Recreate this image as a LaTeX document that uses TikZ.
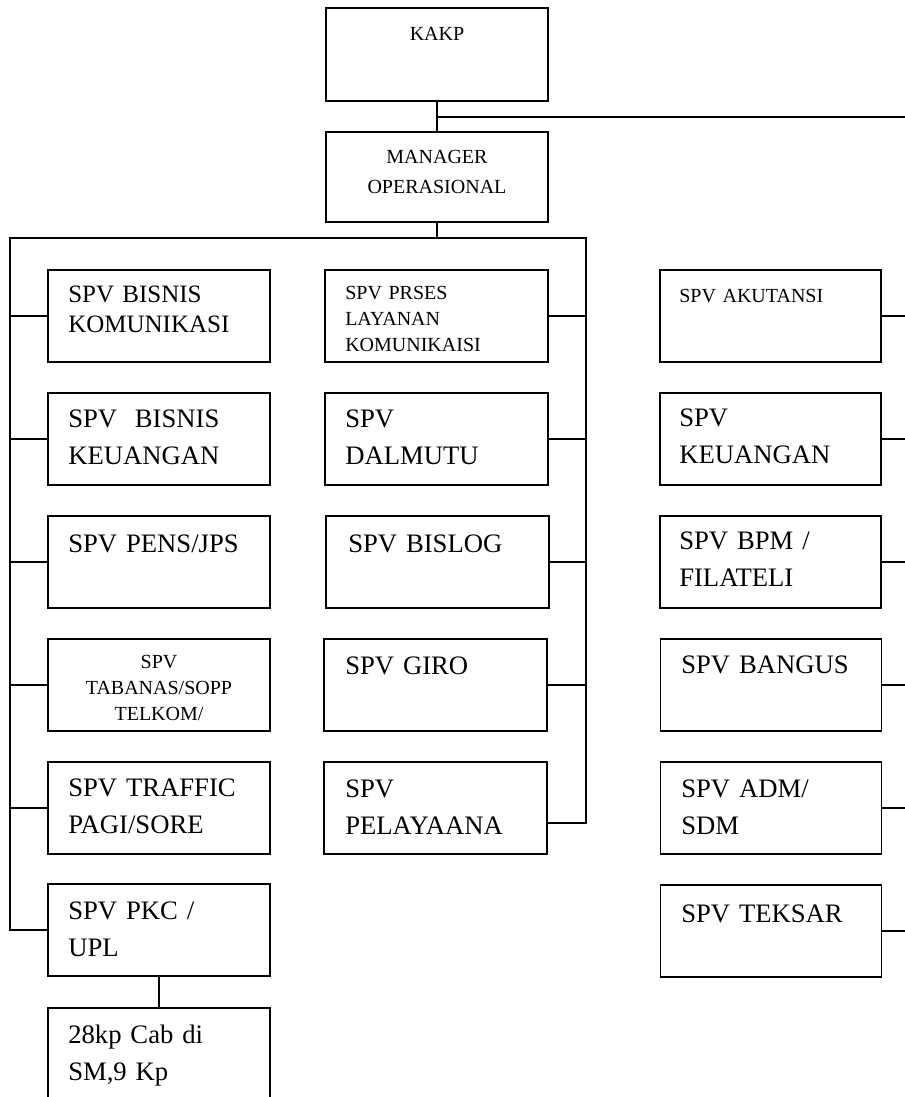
\documentclass[tikz,border=0pt]{standalone}
\usepackage{fontspec}
\setmainfont{Liberation Serif}

\tikzset{
  box/.style={draw, line width=0.9pt, inner sep=0pt, minimum height=69pt},
  lbox/.style={box, minimum width=166.5pt},
  mbox/.style={box, minimum width=167.25pt},
  rbox/.style={box, minimum width=165.75pt},
  big/.style={font=\fontsize{20}{28}\selectfont, anchor=base west, inner sep=0pt, text width=160pt, align=left},
  mid/.style={font=\fontsize{18.75}{22.5}\selectfont, anchor=base west, inner sep=0pt, text width=160pt, align=left},
  small/.style={font=\fontsize{15}{19.5}\selectfont, anchor=base west, inner sep=0pt, text width=160pt, align=left},
  head/.style={font=\fontsize{15}{22.5}\selectfont, anchor=base, inner sep=0pt, text width=160pt, align=center},
  link/.style={line width=0.9pt}
}

\begin{document}
\begin{tikzpicture}[x=0.75pt, y=-0.75pt]

\useasboundingbox[fill=white] (0,0) rectangle (905,1097);

% Top boxes
\node[box, minimum width=166.5pt, minimum height=69.75pt] (kakp) at (437,54.5) {};
\node[box, minimum width=166.5pt, minimum height=67.5pt] (mgr) at (437,177) {};

% Left column
\node[lbox] (L1) at (159,316) {};
\node[lbox] (L2) at (159,439) {};
\node[lbox] (L3) at (159,562) {};
\node[lbox] (L4) at (159,685) {};
\node[lbox] (L5) at (159,808) {};
\node[lbox] (L6) at (159,930) {};
\node[lbox, minimum height=70pt] (L7) at (159,1054.7) {};

% Middle column
\node[mbox] (M1) at (436.5,316) {};
\node[mbox] (M2) at (436.5,439) {};
\node[mbox] (M3) at (437.5,562) {};
\node[mbox] (M4) at (435.5,685) {};
\node[mbox] (M5) at (435.5,808) {};

% Right column
\node[rbox] (R1) at (770.5,316) {};
\node[rbox] (R2) at (770.5,439) {};
\node[rbox] (R3) at (770.5,562) {};
\node[rbox] (R4) at (771,685) {};
\node[rbox] (R5) at (771,808) {};
\node[rbox] (R6) at (771,931) {};

% Texts
\node[head] (kakpT) at (437,40) {KAKP};
\node[head] (mgrT) at (437,163) {MANAGER\\OPERASIONAL};

\node[mid] (L1T) at (68,302) {SPV BISNIS\\KOMUNIKASI};
\node[big] (L2T) at (68,427) {SPV\ \ BISNIS\\KEUANGAN};
\node[big] (L3T) at (68,552) {SPV PENS/JPS};
\node[small, anchor=base, align=center] (L4T) at (159,668) {SPV\\TABANAS/SOPP\\TELKOM/};
\node[big] (L5T) at (68,796) {SPV TRAFFIC\\PAGI/SORE};
\node[big] (L6T) at (68,919) {SPV PKC /\\UPL};
\node[big] (L7T) at (68,1043) {28kp Cab di\\SM,9 Kp};

\node[small] (M1T) at (345,299) {SPV PRSES\\LAYANAN\\KOMUNIKAISI};
\node[big] (M2T) at (345,427) {SPV\\DALMUTU};
\node[big] (M3T) at (348,552) {SPV BISLOG};
\node[big] (M4T) at (345,674) {SPV GIRO};
\node[big] (M5T) at (345,797) {SPV\\PELAYAANA};

\node[small] (R1T) at (679,302) {SPV AKUTANSI};
\node[big] (R2T) at (679,426) {SPV\\KEUANGAN};
\node[big] (R3T) at (679,549) {SPV BPM /\\FILATELI};
\node[big] (R4T) at (681,673) {SPV BANGUS};
\node[big] (R5T) at (681,797) {SPV ADM/\\SDM};
\node[big] (R6T) at (681,922) {SPV TEKSAR};

% Bus points
\coordinate (lbus) at (10,238);
\coordinate (rbus) at (586,238);
\coordinate (edge) at (905,117);

% Lines
\draw[link] (kakp) -- (mgr);
\draw[link] (kakp.south |- edge) -- (edge);
\draw[link] (mgr.south) -- (mgr.south |- lbus);
\draw[link] (L6.west) -| (lbus) -- (rbus) |- ([yshift=-11.25pt]M5.east);

\draw[link] (L1.west) -- (L1.west -| lbus);
\draw[link] (L2.west) -- (L2.west -| lbus);
\draw[link] (L3.west) -- (L3.west -| lbus);
\draw[link] (L4.west) -- (L4.west -| lbus);
\draw[link] (L5.west) -- (L5.west -| lbus);
\draw[link] (L6) -- (L7);

\draw[link] (M1.east) -- (M1.east -| rbus);
\draw[link] (M2.east) -- (M2.east -| rbus);
\draw[link] (M3.east) -- (M3.east -| rbus);
\draw[link] (M4.east) -- (M4.east -| rbus);

\draw[link] (R1.east) -- (R1.east -| edge);
\draw[link] (R2.east) -- (R2.east -| edge);
\draw[link] (R3.east) -- (R3.east -| edge);
\draw[link] (R4.east) -- (R4.east -| edge);
\draw[link] (R5.east) -- (R5.east -| edge);
\draw[link] (R6.east) -- (R6.east -| edge);

\end{tikzpicture}
\end{document}
